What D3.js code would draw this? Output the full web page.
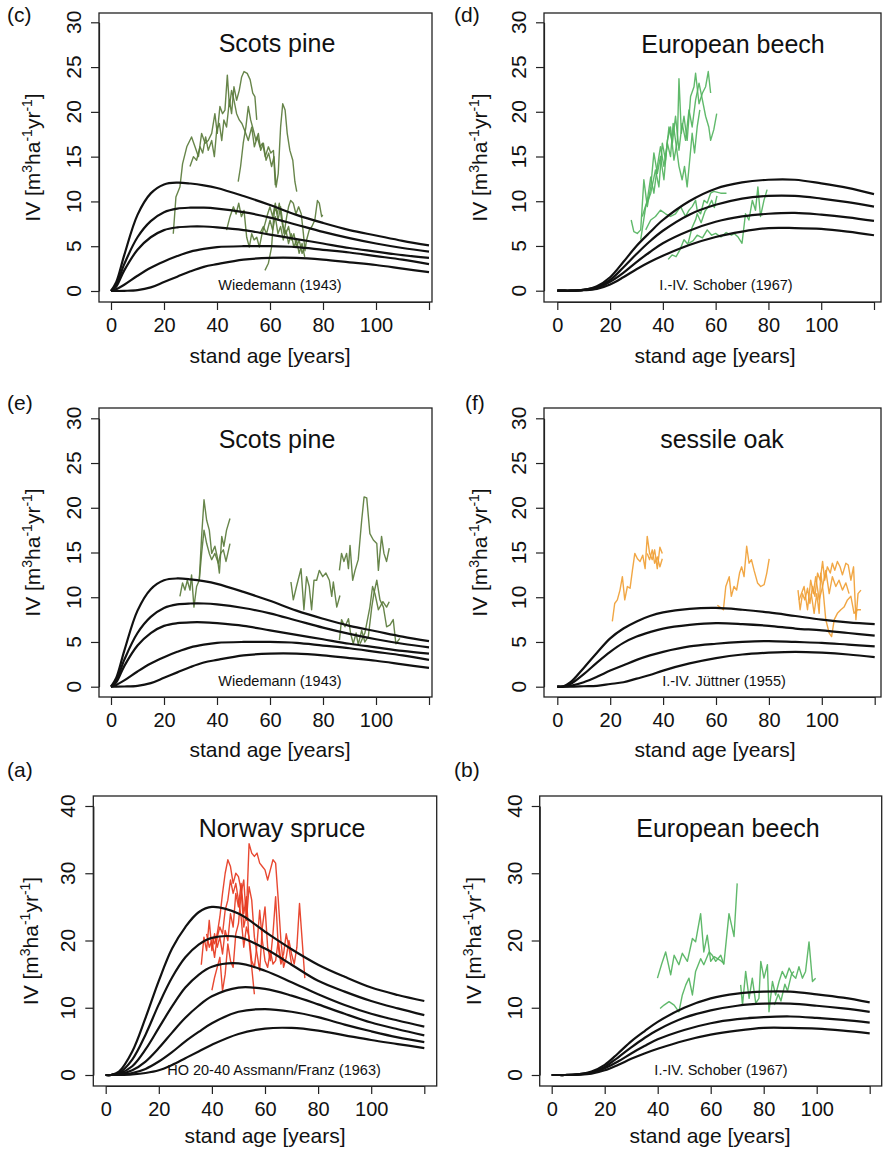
<!DOCTYPE html>
<html><head><meta charset="utf-8">
<script src="https://cdn.jsdelivr.net/npm/d3@7"></script>
<style>
body{margin:0;background:#fff}
svg{display:block}
text{font-family:"Liberation Sans",Arial,Helvetica,sans-serif;fill:#111}
</style>
</head><body>
<svg id="chart" width="889" height="1156"></svg>
<script>
// ---------------- tick labels ----------------
const xTicks = [0, 20, 40, 60, 80, 100, 120];
const xTickLabels = ["0", "20", "40", "60", "80", "100", ""];
const yTicks30 = [0, 5, 10, 15, 20, 25, 30];
const yTicks40 = [0, 10, 20, 30, 40];

// ---------------- yield table curves ----------------
const curveAges = [0, 2, 5, 10, 15, 20, 25, 30, 35, 40, 50, 60, 70, 80, 90, 100, 110, 120];
// Wiedemann (1943), Scots pine
const wiedemann1 = [0, 1.0, 4.0, 8.5, 10.9, 11.9, 12.1, 12.0, 11.8, 11.5, 10.6, 9.6, 8.5, 7.6, 6.8, 6.2, 5.6, 5.1];
const wiedemann2 = [0, 0.7, 3.0, 6.0, 7.8, 8.8, 9.2, 9.3, 9.3, 9.2, 8.8, 8.2, 7.4, 6.6, 5.9, 5.3, 4.8, 4.4];
const wiedemann3 = [0, 0.5, 2.3, 4.6, 6.0, 6.8, 7.1, 7.2, 7.2, 7.1, 6.8, 6.3, 5.8, 5.3, 4.8, 4.4, 4.0, 3.7];
const wiedemann4 = [0, 0.2, 0.7, 1.7, 2.6, 3.3, 3.9, 4.4, 4.7, 4.9, 5.0, 5.0, 4.9, 4.6, 4.3, 3.9, 3.5, 3.0];
const wiedemann5 = [0, 0.0, 0.02, 0.1, 0.4, 1.0, 1.6, 2.2, 2.7, 3.0, 3.5, 3.7, 3.7, 3.5, 3.2, 2.9, 2.5, 2.1];
// Schober (1967), European beech
const schober1 = [0, 0, 0, 0.1, 0.5, 1.5, 3.2, 5.0, 6.5, 7.9, 10.0, 11.4, 12.1, 12.4, 12.4, 12.0, 11.5, 10.8];
const schober2 = [0, 0, 0, 0.1, 0.4, 1.2, 2.6, 4.1, 5.5, 6.7, 8.5, 9.6, 10.3, 10.6, 10.6, 10.3, 9.9, 9.4];
const schober3 = [0, 0, 0, 0.1, 0.3, 1.0, 2.0, 3.2, 4.3, 5.3, 6.7, 7.7, 8.3, 8.6, 8.7, 8.5, 8.2, 7.8];
const schober4 = [0, 0, 0, 0.05, 0.2, 0.7, 1.5, 2.4, 3.2, 3.9, 5.1, 6.0, 6.6, 7.0, 7.0, 6.9, 6.6, 6.2];
// Jüttner (1955), sessile oak
const juettner1 = [0, 0, 0.5, 2.1, 3.8, 5.4, 6.5, 7.3, 7.9, 8.3, 8.7, 8.8, 8.6, 8.3, 7.9, 7.5, 7.2, 7.0];
const juettner2 = [0, 0, 0.3, 1.4, 2.7, 3.9, 4.9, 5.6, 6.1, 6.5, 6.9, 7.1, 7.0, 6.8, 6.5, 6.3, 6.0, 5.7];
const juettner3 = [0, 0, 0.1, 0.5, 1.1, 1.8, 2.4, 3.0, 3.5, 3.9, 4.5, 4.8, 5.0, 5.1, 5.0, 4.9, 4.7, 4.5];
const juettner4 = [0, 0, 0, 0.05, 0.1, 0.3, 0.5, 0.9, 1.3, 1.8, 2.6, 3.2, 3.6, 3.8, 3.9, 3.8, 3.6, 3.3];
// Assmann/Franz (1963), Norway spruce
const assmann1 = [0, 0, 0.5, 3.5, 8.5, 14.0, 18.8, 22.0, 24.2, 25.0, 24.0, 21.3, 18.7, 16.4, 14.6, 13.0, 11.9, 11.0];
const assmann2 = [0, 0, 0.3, 2.3, 6.0, 10.5, 14.5, 17.5, 19.4, 20.4, 20.5, 18.8, 16.4, 14.0, 12.4, 11.0, 9.9, 8.9];
const assmann3 = [0, 0, 0.2, 1.3, 3.8, 7.0, 10.2, 13.0, 14.9, 16.1, 16.6, 15.5, 13.8, 12.0, 10.4, 9.1, 8.1, 7.2];
const assmann4 = [0, 0, 0.1, 0.7, 2.0, 4.0, 6.3, 8.5, 10.3, 11.7, 13.0, 12.8, 11.8, 10.5, 9.1, 7.8, 6.8, 5.9];
const assmann5 = [0, 0, 0.05, 0.3, 0.9, 2.0, 3.4, 5.0, 6.4, 7.7, 9.4, 9.8, 9.4, 8.6, 7.5, 6.5, 5.6, 4.9];
const assmann6 = [0, 0, 0.02, 0.1, 0.3, 0.7, 1.5, 2.5, 3.5, 4.5, 6.1, 6.9, 7.0, 6.6, 5.9, 5.2, 4.6, 4.0];

// ---------------- observed series [age, IV] ----------------
// (c) Scots pine
const pineC1 = [[23.5,6.4],[24.5,10.5],[26,11.6],[27,14.2],[28.6,16.1],[30.4,17.2],[31.7,16.1],[33,15.0],[34.2,17.6],[35.5,16.5],[36.7,16.8],[38,17.6],[39.2,19.8],[40.1,17.6],[41.1,20.6],[42.1,19.8],[43,20.2],[43.9,24.1],[44.7,20.6],[45.5,22.4],[46.4,21.3],[47.4,19.8],[48.4,19.1],[49.4,18.7],[50.6,17.8],[51.8,16.8],[53.1,18.3],[54.1,16.1],[55.2,17.2],[56.2,16.1],[57.2,16.5],[58.2,15.0],[59.4,16.1],[60.3,15.4],[61.3,15.7],[62,11.8]];
const pineC2 = [[29.8,13.9],[31.1,15.0],[32.3,14.6],[33.6,16.1],[34.6,15.4],[35.7,17.2],[36.7,15.7],[38,16.8],[39,15.0],[39.9,18.0],[40.9,18.7],[41.8,16.8],[42.6,19.1],[43.6,18.3],[44.7,21.3],[45.5,19.8],[46.4,22.8],[47.4,21.3],[48.4,22.4],[49.3,23.9],[50.2,24.5],[51.4,24.3],[52.5,23.6],[53.5,22.1],[54.3,21.7],[55,19.1]];
const pineC3 = [[48,12.2],[48.9,13.9],[49.9,16.5],[50.9,18.3],[51.8,20.6],[52.7,19.1],[53.7,18.0],[54.7,16.8],[55.6,17.6],[56.5,15.7],[57.5,16.5],[58.5,14.6],[59.5,15.4],[60.6,13.9],[61.5,15.0],[62.3,11.6],[63.1,13.1],[64,18.3],[64.8,20.9],[65.7,20.2],[66.5,17.6],[67.5,15.7],[68.6,14.6],[69.4,12.2],[70.1,11.1]];
const pineC4 = [[43.6,6.8],[44.9,8.3],[46.2,9.4],[47.2,8.6],[48.2,9.8],[49.2,8.3],[50.2,9.0],[51.2,6.0],[52.2,4.9],[53.1,6.4],[54,5.7],[55,6.0],[56,4.9],[57,6.4],[58.1,7.5],[59.1,8.6],[60,9.4],[61,8.3],[62,9.8],[63,7.9],[64,9.4],[65,7.2],[66,6.4],[67,7.2],[68,5.7],[69,6.4],[70,4.9],[71,5.7],[72.1,4.2],[73.1,4.9]];
const pineC5 = [[58.1,2.3],[59.4,3.1],[60.6,4.9],[61.3,7.9],[61.9,9.4],[62.8,8.6],[63.5,9.8],[64.4,7.9],[65.3,6.4],[66.3,8.3],[67,9.4],[67.8,10.1],[68.8,9.8],[69.8,8.6],[70.8,9.4],[71.8,8.6],[72.6,6.4],[73.2,4.5],[73.8,5.7],[74.8,6.8],[75.8,7.2],[76.9,7.9],[77.9,10.1],[78.6,9.8],[79.5,8.3],[79.9,8.5]];
const pineC6 = [[56.2,6.4],[57.5,7.2],[58.7,6.4],[60,7.9],[61,6.8],[62,8.3],[63,6.4],[64,7.2],[65,5.7],[66,6.8],[67,5.3],[68,6.4],[69,4.9],[70,5.7],[71,4.2],[72.1,5.3],[73.1,3.8]];
// (d) European beech
const beechD1 = [[28,7.9],[29,6.6],[30.3,6.4],[31.6,6.8],[32.8,12.4],[34.1,9.4],[35.4,11.6],[36.6,15.4],[37.9,13.1],[39.1,15.0],[40.4,12.4],[41.7,16.8],[42.9,18.3],[44.2,14.6],[45.5,16.8],[46.1,23.7],[47,17.6],[48,19.5],[49.2,16.8],[50.5,21.7],[51.8,22.8],[52.4,24.3],[53.7,20.9],[55,22.1],[56.2,22.8],[57.2,24.5],[58.1,22.1]];
const beechD2 = [[31.6,5.7],[33.5,9.4],[35.4,10.9],[37.2,13.5],[38.5,11.6],[39.8,16.5],[41,14.6],[42.3,18.3],[43.6,16.5],[44.8,19.5],[46.1,15.7],[47.3,18.7],[48.6,16.8],[49.9,20.2],[51.1,18.3],[52.4,21.3],[53.7,23.2],[55,21.3],[56.2,19.5],[57.4,18.3],[58.1,16.8],[59.3,18.0],[60.4,19.8]];
const beechD3 = [[32.2,8.3],[34.1,10.1],[35.4,12.7],[36.6,10.9],[37.9,13.9],[39.1,16.1],[40.4,13.9],[41.7,16.5],[42.9,15.0],[43.9,18.7],[44.8,16.8],[46.1,13.9],[47.3,12.4],[48.2,13.9],[49.2,11.6],[50.3,15.0],[51.1,17.6],[52,15.4],[53,18.3],[54,20.2]];
const beechD4 = [[33.5,6.8],[35.4,7.9],[37.2,8.3],[39.1,9.0],[41,8.6],[42.9,8.3],[44.8,8.6],[46.7,9.4],[48.6,8.3],[49.9,9.0],[51.1,9.4],[52.4,10.1],[53,9.0],[54.3,8.6],[55.6,10.1],[56.8,9.8],[58.1,10.9],[59.3,11.1],[61.9,10.9],[64.1,10.9]];
const beechD5 = [[42,3.5],[43.5,4.0],[45,3.8],[46.5,4.6],[48,5.7],[49.5,5.2],[51,7.0],[52.5,8.0],[53,8.6],[54.5,7.6],[56,8.9],[57.5,9.5],[58.5,10.1],[59.5,9.3],[60.5,10.6]];
const beechD6 = [[49.9,5.3],[51.5,5.6],[53,6.2],[55,5.9],[56.8,6.8],[58.5,6.2],[60,6.4],[62,6.0],[64,6.5],[66,6.2],[67,6.4],[68.5,6.0],[70,5.3],[71.3,8.6],[72.6,7.9],[73.9,10.1],[75.1,9.0],[76,11.6],[77,8.3],[78.3,10.1],[79.5,11.3]];
// (e) Scots pine
const pineE1 = [[26,10.1],[27,11.6],[27.9,10.8],[28.8,11.9],[29.8,10.8],[30.4,12.5],[31.3,8.9],[32.3,11.2],[33.3,11.9],[34.2,16.8],[35.1,20.9],[36.1,18.6],[37.1,17.5],[38,14.9],[39.2,15.7],[40.1,14.5],[40.9,12.7],[41.8,16.8],[42.6,15.7],[43.6,17.5],[44.9,18.8]];
const pineE2 = [[33.3,11.9],[34.2,14.9],[35.1,17.5],[36.1,16.0],[37.1,14.9],[38,14.2],[39.2,14.9],[40.5,13.8],[41.4,14.9],[42.4,15.3],[43.4,14.0],[44.9,16.0]];
const pineE3 = [[67.9,11.7],[68.8,9.7],[70,11.2],[71.7,13.2],[72.8,8.6],[73.8,12.3],[74.8,11.2],[75.7,8.6],[76.6,11.9],[77.6,11.9],[78.6,13.0],[79.9,12.3],[81.1,12.7],[82.4,11.9],[83.3,10.1],[83.9,11.7],[85.2,8.9],[86.4,10.2]];
const pineE4 = [[86.2,13.0],[87,14.9],[87.9,14.0],[88.9,14.9],[89.6,13.2],[90.2,15.8],[91.2,11.9],[92.1,13.0],[93.3,14.2],[94.6,18.6],[95.5,21.2],[96.5,21.1],[97.7,17.1],[99,16.4],[100.3,16.0],[100.9,13.0],[102.1,16.8],[103,14.9],[104,14.0],[105,15.5]];
const pineE5 = [[86.2,5.2],[87,7.5],[88.3,6.7],[89.6,7.6],[90.4,6.0],[91.4,4.8],[92.5,6.0],[93.3,4.7],[94.6,6.3],[95.8,5.0],[97.1,5.6],[98.4,8.9],[99.2,10.4],[100.3,11.9],[101.5,9.7],[102.8,8.9],[104,6.7],[105.3,6.9],[106.5,7.5],[107.5,4.8],[109,5.4]];
const pineE6 = [[94,4.8],[95.8,6.0],[97.7,8.9],[98.7,11.2],[99.6,10.4],[100.9,8.6],[102.6,9.5],[104,8.9],[105,9.5]];
// (f) sessile oak
const oakF1 = [[20.8,7.3],[21.7,9.3],[22.7,9.7],[23.7,10.8],[24.6,12.3],[25.5,9.7],[26.5,11.2],[27.5,11.0],[28.4,13.0],[29.3,14.9],[30.3,14.3],[31.3,14.0],[32.3,14.7],[33.2,13.2],[34,16.8],[34.9,14.9],[35.9,14.2],[36.8,15.3],[37.8,13.2],[38.8,15.6],[39.7,14.9]];
const oakF2 = [[34,14.9],[34.9,14.2],[35.9,15.3],[36.8,13.8],[37.8,14.5],[38.8,13.4],[39.7,14.3]];
const oakF3 = [[60.5,9.1],[61.5,8.9],[62.8,8.6],[63.7,11.2],[65,12.3],[65.8,10.1],[66.8,11.2],[67.8,10.8],[68.9,12.7],[69.7,13.4],[70.6,12.3],[71.6,15.7],[72.5,13.8],[73.4,14.2],[74.4,13.0],[75.7,11.6],[76.9,11.2],[78.2,11.4],[79.2,12.7],[80.1,14.3]];
const oakF4 = [[91,10.8],[91.8,8.6],[92.7,10.4],[93.6,9.7],[94.6,11.0],[95.5,9.3],[96.5,11.2],[97.4,10.1],[98.4,12.7],[99.4,11.9],[100.3,14.0],[101.1,11.9],[102.1,13.4],[103.2,12.7],[104,13.8],[104.9,13.0],[105.9,14.0],[106.9,13.4],[107.8,12.5],[109.1,13.8],[110,13.6],[111,11.9],[112,13.4],[112.9,7.5],[113.7,10.4],[114.8,10.8]];
const oakF5 = [[96,10.4],[97.1,8.2],[98.1,10.4],[99,8.2],[99.6,12.7],[100.6,10.4],[101.5,7.5],[102.8,6.0],[103.7,5.6],[104.7,7.5],[105.9,8.2],[107.2,8.6],[108.4,8.9],[109.7,9.7],[111,10.1],[112.2,8.2],[113.5,8.6],[114.8,8.6]];
const oakF6 = [[91.4,9.7],[93.3,11.2],[94.6,8.6],[95.8,11.9],[96.8,10.4],[97.7,12.3],[99,9.7],[100.3,11.2],[101.5,13.0],[102.8,10.4],[104,12.3],[105.3,11.2],[106.5,11.9],[107.8,10.8],[109.1,11.6],[110.3,10.4]];
// (a) Norway spruce
const spruceA1 = [[36,16.4],[37,20.5],[38,18.5],[39,23.0],[40,18.5],[41,21.0],[42,19.0],[43,20.5],[44,18.0],[45,21.5],[46,20.0],[47,24.0],[48,22.0],[49,27.0],[50,25.0],[51,28.5],[52,24.0],[53,26.5],[54,20.0],[55,16.0],[56,12.0]];
const spruceA2 = [[40,12.6],[41,14.5],[42,16.0],[43,17.5],[44,12.5],[45,15.0],[46,19.5],[47,17.0],[48,16.0],[49,21.0],[50,22.5],[51,27.0],[52,29.0],[53,23.0],[54,28.0],[55,26.0],[56,20.5],[57,18.0],[58,15.5],[59,22.0],[60,25.0],[61,19.0],[62,17.0],[63,21.0],[64,26.5],[65,19.0],[66,16.5],[67,17.5]];
const spruceA3 = [[40,20.5],[41,19.5],[42,21.0],[43,23.5],[44,27.0],[45,30.0],[46,32.0],[47,31.0],[48,28.5],[49,30.0],[50,29.5],[51,27.5],[52,22.0],[53,24.0],[54,34.4],[55,33.0],[56,32.5],[57,33.0],[58,31.5],[59,31.0],[60,30.5],[61,29.0],[62,30.5],[63,32.0],[64,31.5],[65,26.0],[66,20.0],[67,16.0],[68,17.5],[69,20.0],[70,18.0],[71,16.5],[72,19.0],[73,25.5],[74,20.0],[75,14.4]];
const spruceA4 = [[38,21.0],[39,19.0],[40,20.0],[41,17.5],[42,20.5],[43,22.0],[44,21.0],[45,24.5],[46,26.0],[47,29.0],[48,27.0],[49,28.5],[50,26.0],[51,23.5],[52,19.0],[53,22.0],[54,20.5],[55,17.0],[56,16.0],[57,19.5],[58,24.5],[59,20.0],[60,17.0],[61,16.0],[62,18.5],[63,16.5],[64,17.0],[65,20.0],[66,17.0],[67,18.0],[68,21.0],[69,19.0],[70,16.5]];
// (b) European beech
const beechB1 = [[39.9,14.4],[41.5,16.5],[43,18.3],[44.9,14.9],[46.2,17.8],[48,16.4],[49.3,18.1],[51.2,16.9],[53.1,20.3],[54.3,19.8],[56.2,24.0],[57.4,18.3],[58.7,20.8],[60,16.9],[61.3,17.6],[63.8,17.0],[65,16.6],[66.9,24.0],[68.8,20.6],[70,28.5]];
const beechB2 = [[40.9,9.9],[42.4,10.4],[44.3,10.9],[46.2,10.4],[48,9.4],[49.3,11.9],[50.6,13.4],[51.8,14.4],[53.1,11.9],[54.3,15.4],[56.2,17.3],[57.4,16.4],[59.4,18.3],[60.6,17.8],[61.9,16.9],[63.8,17.8],[65,16.4]];
const beechB3 = [[71.3,13.4],[72,10.4],[73.2,15.4],[74.5,11.4],[75.7,14.4],[77,10.7],[78.2,11.4],[78.9,16.9],[80.1,14.4],[81.4,16.4],[82,9.4],[83.3,13.9],[84.5,11.9],[85.8,13.9],[87,15.4],[88.3,14.4],[89.6,15.9],[90.8,14.9],[92.1,14.4],[93.3,16.1],[94.6,14.4],[95.8,15.4],[97.1,19.8],[98.4,13.9],[99.6,14.4]];
const beechB4 = [[84,10.4],[85.5,12.0],[86.5,11.0],[88,13.5],[89,12.5],[90.5,15.0],[91.4,15.4]];

// ---------------- panel definitions ----------------
const colPine = "#5a7b3b", colBeech = "#52b35e", colOak = "#f0a035", colSpruce = "#e6381f";
const panels = [
  {tag:"(c)", title:"Scots pine", note:"Wiedemann (1943)", curves:[wiedemann1,wiedemann2,wiedemann3,wiedemann4,wiedemann5], obs:[pineC1,pineC2,pineC3,pineC4,pineC5,pineC6], color:colPine, yMax:30, yTicks:yTicks30,
   box:[99,13,432,302], xr:[111,429], yr:[291,22.3], tagPos:[7,22], titlePos:[277,52], notePos:[280,290], xtPos:[270,363], ytX:40},
  {tag:"(d)", title:"European beech", note:"I.-IV. Schober (1967)", curves:[schober1,schober2,schober3,schober4], obs:[beechD1,beechD2,beechD3,beechD4,beechD5,beechD6], color:colBeech, yMax:30, yTicks:yTicks30,
   box:[544,13,881,302], xr:[557.3,874], yr:[290.7,22.3], tagPos:[454,22], titlePos:[733,53], notePos:[726,290], xtPos:[715,363], ytX:487},
  {tag:"(e)", title:"Scots pine", note:"Wiedemann (1943)", curves:[wiedemann1,wiedemann2,wiedemann3,wiedemann4,wiedemann5], obs:[pineE1,pineE2,pineE3,pineE4,pineE5,pineE6], color:colPine, yMax:30, yTicks:yTicks30,
   box:[99,408,432,697], xr:[111,429], yr:[686.7,418.3], tagPos:[7,410], titlePos:[277,448], notePos:[280,686], xtPos:[270,757], ytX:40},
  {tag:"(f)", title:"sessile oak", note:"I.-IV. J\u00fcttner (1955)", curves:[juettner1,juettner2,juettner3,juettner4], obs:[oakF1,oakF2,oakF3,oakF4,oakF5,oakF6], color:colOak, yMax:30, yTicks:yTicks30,
   box:[544,408,881,697], xr:[557.3,874.7], yr:[686.7,418.3], tagPos:[465,410], titlePos:[722,448], notePos:[724,686], xtPos:[715,757], ytX:487},
  {tag:"(a)", title:"Norway spruce", note:"HO 20-40 Assmann/Franz (1963)", curves:[assmann1,assmann2,assmann3,assmann4,assmann5,assmann6], obs:[spruceA1,spruceA2,spruceA3,spruceA4], color:colSpruce, yMax:40, yTicks:yTicks40,
   box:[93.3,796,436.7,1086], xr:[105.7,424.3], yr:[1075,806], tagPos:[7,777], titlePos:[282,837], notePos:[274,1075], xtPos:[265,1143], ytX:38},
  {tag:"(b)", title:"European beech", note:"I.-IV. Schober (1967)", curves:[schober1,schober2,schober3,schober4], obs:[beechB1,beechB2,beechB3,beechB4], color:colBeech, yMax:40, yTicks:yTicks40,
   box:[539.7,796,881.7,1086], xr:[551.7,869.7], yr:[1075,806], tagPos:[454,777], titlePos:[728,837], notePos:[721,1075], xtPos:[710,1143], ytX:481}
];

const svg = d3.select("#chart");

function drawPanel(p) {
  const g = svg.append("g");
  const x = d3.scaleLinear().domain([0, 120]).range(p.xr);
  const y = d3.scaleLinear().domain([0, p.yMax]).range([p.yr[0], p.yr[1]]);
  const [L, T, R, B] = p.box;

  // x axis
  const xa = g.append("g").attr("transform", `translate(0,${B})`)
    .call(d3.axisBottom(x).tickValues(xTicks).tickFormat((d, i) => xTickLabels[i]).tickSize(8).tickSizeOuter(0).tickPadding(8));
  xa.selectAll("text").attr("font-size", 20).attr("font-family", '"Liberation Sans",Arial,sans-serif').attr("fill", "#111");
  xa.selectAll("line").attr("stroke", "#222").attr("stroke-width", 1.2);
  xa.select(".domain").attr("stroke", "#222").attr("stroke-width", 1.2);

  // y axis (ticks) + rotated labels
  const ya = g.append("g").attr("transform", `translate(${L},0)`)
    .call(d3.axisLeft(y).tickValues(p.yTicks).tickFormat("").tickSize(8).tickSizeOuter(0));
  ya.selectAll("line").attr("stroke", "#222").attr("stroke-width", 1.2);
  ya.select(".domain").attr("stroke", "#222").attr("stroke-width", 1.2);
  g.append("g").selectAll("text").data(p.yTicks).join("text")
    .attr("transform", d => `translate(${L - 18},${y(d)}) rotate(-90)`)
    .attr("text-anchor", "middle").attr("font-size", 21).text(d => d);

  // box
  g.append("rect").attr("x", L).attr("y", T).attr("width", R - L).attr("height", B - T)
    .attr("fill", "none").attr("stroke", "#222").attr("stroke-width", 1.3);

  // observed series
  const obsLine = d3.line().x(d => x(d[0])).y(d => y(d[1]));
  g.append("g").selectAll("path").data(p.obs).join("path")
    .attr("d", obsLine).attr("fill", "none").attr("stroke", p.color)
    .attr("stroke-width", 1.4).attr("stroke-linejoin", "round").attr("opacity", 0.92);

  // yield table curves
  const curveLine = d3.line().x(d => x(d[0])).y(d => y(Math.max(0, d[1]))).curve(d3.curveCatmullRom.alpha(0.5));
  g.append("g").selectAll("path").data(p.curves.map(v => curveAges.map((a, i) => [a, v[i]]))).join("path")
    .attr("d", curveLine).attr("fill", "none").attr("stroke", "#111").attr("stroke-width", 2.2);

  // texts
  g.append("text").attr("x", p.tagPos[0]).attr("y", p.tagPos[1]).attr("font-size", 21).text(p.tag);
  g.append("text").attr("x", p.titlePos[0]).attr("y", p.titlePos[1]).attr("text-anchor", "middle").attr("font-size", 25).text(p.title);
  g.append("text").attr("x", p.notePos[0]).attr("y", p.notePos[1]).attr("text-anchor", "middle").attr("font-size", 14.5).attr("fill", "#222").text(p.note);
  g.append("text").attr("x", p.xtPos[0]).attr("y", p.xtPos[1]).attr("text-anchor", "middle").attr("font-size", 21).text("stand age [years]");

  const yt = g.append("text").attr("transform", `translate(${p.ytX},${(T + B) / 2}) rotate(-90)`)
    .attr("text-anchor", "middle").attr("font-size", 21);
  yt.append("tspan").text("IV [m");
  yt.append("tspan").attr("font-size", 14).attr("dy", -8).text("3");
  yt.append("tspan").attr("dy", 8).text("ha");
  yt.append("tspan").attr("font-size", 14).attr("dy", -8).text("-1");
  yt.append("tspan").attr("dy", 8).text("yr");
  yt.append("tspan").attr("font-size", 14).attr("dy", -8).text("-1");
  yt.append("tspan").attr("dy", 8).text("]");
}

panels.forEach(drawPanel);
</script>
</body></html>
